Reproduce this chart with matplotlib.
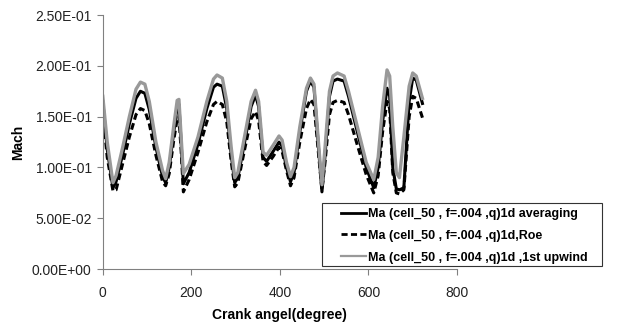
import numpy as np
import matplotlib.pyplot as plt
from matplotlib.ticker import FuncFormatter
from matplotlib.patches import Rectangle

plt.rcParams['font.family'] = ['Liberation Sans', 'DejaVu Sans']

# crank angle (degree)
angle = [0, 10, 23, 30, 45, 60, 75, 85, 95, 105, 120, 135, 142, 150, 160, 168, 172,
         177, 182, 195, 215, 235, 250, 258, 270, 280, 290, 298, 305, 320, 335, 345,
         352, 362, 370, 385, 398, 405, 415, 424, 432, 445, 460, 469, 477, 488, 495,
         502, 512, 520, 530, 545, 555, 575, 595, 612, 622, 632, 642, 648, 655, 663,
         670, 680, 692, 700, 708, 722]

# Mach, 1st upwind
ma_upwind = [0.170, 0.125, 0.085, 0.092, 0.120, 0.150, 0.177, 0.184, 0.182, 0.165,
             0.125, 0.097, 0.089, 0.105, 0.140, 0.166, 0.167, 0.130, 0.094, 0.103,
             0.130, 0.165, 0.187, 0.191, 0.188, 0.165, 0.120, 0.090, 0.095, 0.130,
             0.165, 0.176, 0.165, 0.115, 0.112, 0.122, 0.131, 0.127, 0.105, 0.091,
             0.100, 0.140, 0.178, 0.188, 0.182, 0.120, 0.083, 0.120, 0.175, 0.190,
             0.193, 0.190, 0.175, 0.140, 0.105, 0.088, 0.110, 0.160, 0.196, 0.190,
             0.140, 0.095, 0.090, 0.130, 0.180, 0.193, 0.190, 0.168]

# Mach, averaging
ma_avg = [0.165, 0.118, 0.080, 0.086, 0.113, 0.143, 0.168, 0.175, 0.173, 0.157,
          0.120, 0.091, 0.085, 0.100, 0.134, 0.160, 0.162, 0.124, 0.084, 0.095,
          0.123, 0.158, 0.179, 0.182, 0.180, 0.158, 0.113, 0.085, 0.090, 0.124,
          0.160, 0.171, 0.160, 0.110, 0.106, 0.116, 0.125, 0.121, 0.100, 0.086,
          0.095, 0.135, 0.175, 0.185, 0.179, 0.115, 0.076, 0.112, 0.170, 0.185,
          0.187, 0.185, 0.170, 0.135, 0.100, 0.080, 0.100, 0.145, 0.178, 0.170,
          0.100, 0.079, 0.078, 0.080, 0.165, 0.188, 0.186, 0.163]

# Mach, Roe
ma_roe = [0.155, 0.110, 0.077, 0.078, 0.104, 0.130, 0.152, 0.158, 0.156, 0.143,
          0.112, 0.086, 0.082, 0.094, 0.126, 0.148, 0.150, 0.116, 0.076, 0.088,
          0.115, 0.145, 0.162, 0.165, 0.162, 0.145, 0.106, 0.081, 0.085, 0.117,
          0.148, 0.155, 0.146, 0.106, 0.102, 0.111, 0.120, 0.116, 0.097, 0.082,
          0.090, 0.125, 0.158, 0.167, 0.162, 0.110, 0.078, 0.105, 0.152, 0.164,
          0.166, 0.164, 0.152, 0.122, 0.093, 0.075, 0.092, 0.135, 0.165, 0.158,
          0.095, 0.075, 0.074, 0.078, 0.150, 0.170, 0.168, 0.149]

labels = ['Ma (cell_50 , f=.004 ,q)1d averaging',
          'Ma (cell_50 , f=.004 ,q)1d,Roe',
          'Ma (cell_50 , f=.004 ,q)1d ,1st upwind']

W, H = 623, 327
fig = plt.figure(figsize=(W / 100, H / 100), dpi=100)
ax = fig.add_axes([0.165, 0.177, 0.5685, 0.777])

ax.plot(angle, ma_avg, color='black', lw=2.2, label=labels[0])
ax.plot(angle, ma_roe, color='black', lw=2.2, ls=(0, (2.2, 1.2)), label=labels[1])
ax.plot(angle, ma_upwind, color='#999999', lw=2.4, label=labels[2])

ax.set_xlim(0, 800)
ax.set_ylim(0, 0.25)
ax.set_xticks([0, 200, 400, 600, 800])
ax.set_yticks(np.arange(0, 0.26, 0.05))
ax.yaxis.set_major_formatter(FuncFormatter(lambda v, p: '{:.2E}'.format(v)))

for s in ['top', 'right']:
    ax.spines[s].set_visible(False)
for s in ['left', 'bottom']:
    ax.spines[s].set_color('#808080')
ax.tick_params(direction='out', length=4, color='#808080', labelsize=10,
               labelcolor='#222222', pad=4)
ax.tick_params(axis='x', pad=8)

ax.set_xlabel('Crank angel(degree)', fontsize=10, fontweight='bold', labelpad=6)
ax.set_ylabel('Mach', fontsize=10, fontweight='bold', labelpad=5)

# legend box drawn by hand, legend itself without frame
fig.patches.append(Rectangle((322 / W, 1 - 266 / H), 280 / W, 63 / H,
                             transform=fig.transFigure, fill=True,
                             facecolor='white', edgecolor='#333333', lw=0.8))
leg = fig.legend(loc='upper left', bbox_to_anchor=(341 / W, 1 - 208 / H),
                 prop={'size': 9, 'weight': 'bold'}, frameon=False,
                 handlelength=2.0, handletextpad=0.15, borderpad=0,
                 labelspacing=0.78, borderaxespad=0)
for h, lw in zip(leg.get_lines(), [2.0, 2.0, 1.6]):
    h.set_linewidth(lw)

fig.savefig('out.png', dpi=100)
